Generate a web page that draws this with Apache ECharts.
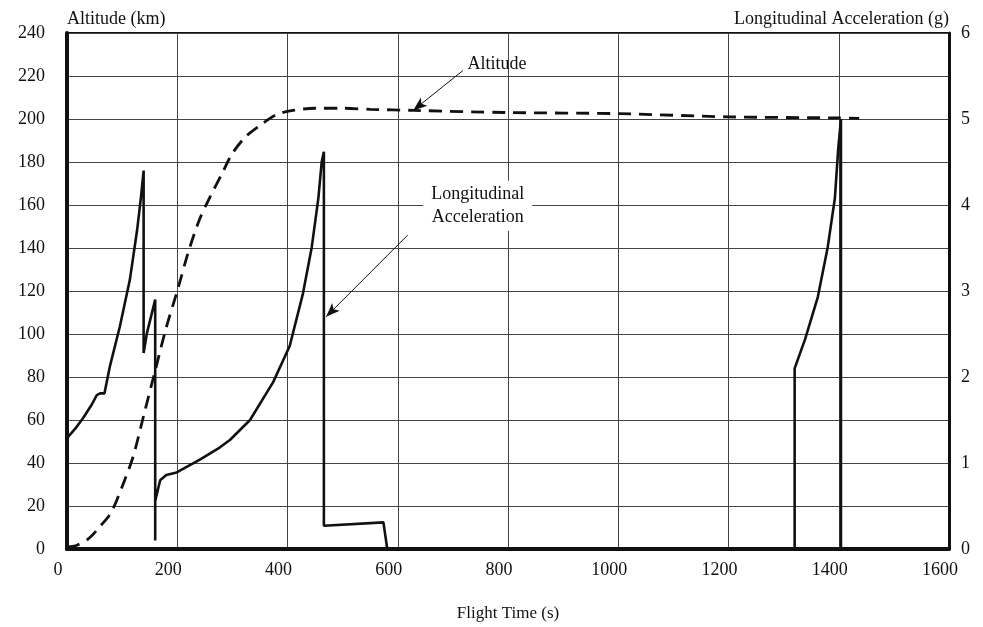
<!DOCTYPE html>
<html>
<head>
<meta charset="utf-8">
<script src="https://cdn.jsdelivr.net/npm/echarts@6/dist/echarts.min.js"></script>
<style>html,body{margin:0;padding:0;background:#fff}#c{width:983px;height:627px}</style>
</head>
<body>
<div id="c"></div>
<script>
// Altitude (km) vs flight time (s)
var altTime = [0, 10, 20, 40, 60, 80, 100, 120, 140, 160, 180, 200, 220, 240, 260, 280, 300, 325, 350, 380, 410, 450, 500, 550, 630, 800, 1000, 1200, 1400, 1437];
var altValue = [1, 1.2, 2, 5, 10.5, 17, 29, 43, 63, 83, 103, 120, 138, 153, 164, 174, 184, 192, 197, 202, 204, 205, 205, 204.5, 204, 203, 202.5, 201, 200.5, 200.3];
// Longitudinal acceleration (g) vs flight time (s)
var accTime = [0, 0, 15, 29, 45, 54, 60, 68, 78, 96, 114, 127, 134, 139, 139, 145, 160, 160, 160, 169, 180, 199, 241, 277, 296, 332, 374, 404, 428, 444, 456, 462, 466, 466, 574, 581, 1320, 1320, 1339, 1362, 1380, 1393, 1399, 1404, 1404, 1437];
var accValue = [0, 1.29, 1.40, 1.52, 1.68, 1.79, 1.81, 1.81, 2.13, 2.59, 3.13, 3.70, 4.08, 4.40, 2.28, 2.51, 2.90, 0.10, 0.56, 0.80, 0.86, 0.89, 1.04, 1.18, 1.27, 1.50, 1.94, 2.36, 2.97, 3.51, 4.08, 4.50, 4.62, 0.27, 0.31, 0, 0, 2.10, 2.44, 2.93, 3.51, 4.08, 4.65, 5.0, 0, 0];
// Axis tick labels
var xTicks = [0, 200, 400, 600, 800, 1000, 1200, 1400, 1600];
var altTicks = [0, 20, 40, 60, 80, 100, 120, 140, 160, 180, 200, 220, 240];
var accTicks = [0, 1, 2, 3, 4, 5, 6];

var altData = altTime.map(function (t, i) { return [t, altValue[i]]; });
var accData = accTime.map(function (t, i) { return [t, accValue[i]]; });

var font = 'Liberation Serif';
var chart = echarts.init(document.getElementById('c'));
chart.setOption({
  animation: false,
  backgroundColor: '#fff',
  textStyle: { fontFamily: font, color: '#111' },
  grid: { left: 67, right: 34, top: 33, bottom: 71, show: true, borderColor: '#111', borderWidth: 2, backgroundColor: 'transparent' },
  xAxis: {
    type: 'value', min: 0, max: 1600, interval: 200,
    name: 'Flight Time (s)', nameLocation: 'middle', nameGap: 56,
    nameTextStyle: { fontFamily: font, fontSize: 17, color: '#111' },
    axisLine: { show: true, lineStyle: { color: '#111', width: 4 } },
    axisTick: { show: false },
    axisLabel: { fontFamily: font, fontSize: 18, color: '#111', margin: 12, padding: [0, 18, 0, 0],
      formatter: function (v) { return xTicks.indexOf(v) >= 0 ? String(v) : ''; } },
    splitLine: { show: true, lineStyle: { color: '#444', width: 1 } }
  },
  yAxis: [{
    type: 'value', min: 0, max: 240, interval: 20, position: 'left',
    name: 'Altitude (km)', nameLocation: 'end', nameGap: 5,
    nameTextStyle: { fontFamily: font, fontSize: 18, color: '#111', align: 'left' },
    axisLine: { show: true, lineStyle: { color: '#111', width: 4 } },
    axisTick: { show: false },
    axisLabel: { fontFamily: font, fontSize: 18, color: '#111', margin: 22,
      formatter: function (v) { return altTicks.indexOf(v) >= 0 ? String(v) : ''; } },
    splitLine: { show: true, lineStyle: { color: '#444', width: 1 } }
  }, {
    type: 'value', min: 0, max: 6, interval: 1, position: 'right',
    name: 'Longitudinal Acceleration (g)', nameLocation: 'end', nameGap: 5,
    nameTextStyle: { fontFamily: font, fontSize: 18, color: '#111', align: 'right' },
    axisLine: { show: true, lineStyle: { color: '#111', width: 3 } },
    axisTick: { show: false },
    axisLabel: { fontFamily: font, fontSize: 18, color: '#111', margin: 12,
      formatter: function (v) { return accTicks.indexOf(v) >= 0 ? String(v) : ''; } },
    splitLine: { show: false }
  }],
  series: [{
    name: 'Altitude', type: 'line', xAxisIndex: 0, yAxisIndex: 0, data: altData,
    smooth: 0.3, showSymbol: false, symbol: 'none',
    lineStyle: { color: '#111', width: 2.8, type: [13, 8] },
    markLine: {
      silent: true, symbol: ['none', 'arrow'], symbolSize: [8, 14],
      label: { show: false },
      lineStyle: { color: '#111', width: 1, type: 'solid' },
      data: [[{ coord: [718, 222.5] }, { coord: [628, 204] }]]
    },
    markPoint: {
      silent: true, symbol: 'rect', symbolSize: 1, itemStyle: { color: 'rgba(0,0,0,0)' },
      label: { show: true, position: 'inside', formatter: 'Altitude', fontFamily: font, fontSize: 18, color: '#111' },
      data: [{ coord: [780, 225.4] }]
    }
  }, {
    name: 'Longitudinal Acceleration', type: 'line', xAxisIndex: 0, yAxisIndex: 1, data: accData,
    showSymbol: false, symbol: 'none',
    lineStyle: { color: '#111', width: 2.6 },
    markLine: {
      silent: true, symbol: ['none', 'arrow'], symbolSize: [8, 14],
      label: { show: false },
      lineStyle: { color: '#111', width: 1, type: 'solid' },
      data: [[{ coord: [618, 3.65] }, { coord: [470, 2.70] }]]
    },
    markPoint: {
      silent: true, symbol: 'rect', symbolSize: 1, itemStyle: { color: 'rgba(0,0,0,0)' },
      label: { show: true, position: 'inside', formatter: 'Longitudinal\nAcceleration', fontFamily: font, fontSize: 18,
        lineHeight: 23, color: '#111', backgroundColor: '#fff', padding: [2, 8, 2, 8], align: 'center' },
      data: [{ coord: [745, 3.99] }]
    }
  }]
});
</script>
</body>
</html>
